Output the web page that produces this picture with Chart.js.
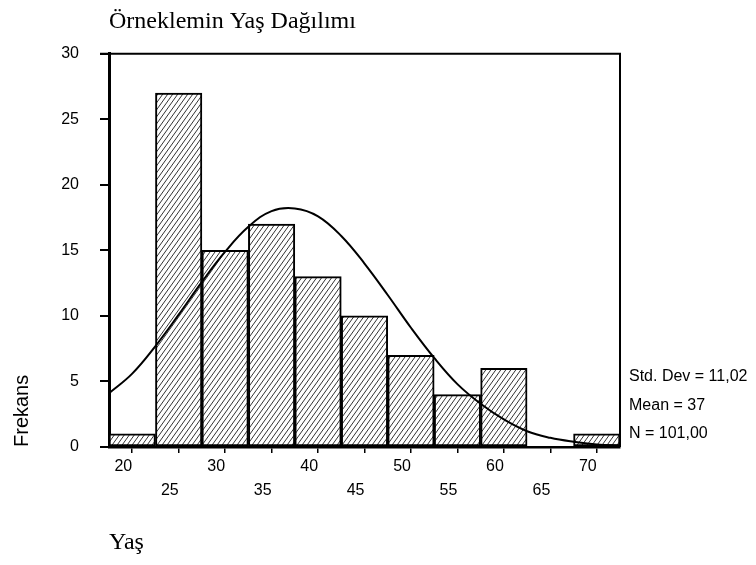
<!DOCTYPE html>
<html lang="tr">
<head>
<meta charset="utf-8">
<title>Örneklemin Yaş Dağılımı</title>
<script src="https://cdn.jsdelivr.net/npm/chart.js@4/dist/chart.umd.min.js"></script>
<style>
  html, body { margin: 0; padding: 0; background: #fff; }
  canvas { display: block; }
</style>
</head>
<body>
<canvas id="grafico" width="756" height="565"></canvas>
<script>
// Histogram data (class centres, width 5)
const ageClasses = [20, 25, 30, 35, 40, 45, 50, 55, 60, 65, 70];
const frequencies = [1, 27, 15, 17, 13, 10, 7, 4, 6, 0, 1];

// Normal curve
const curveAges = [17.5, 20, 22.5, 25, 27.5, 30, 32.5, 35, 37.5, 40, 42.5, 45,
  47.5, 50, 52.5, 55, 57.5, 60, 62.5, 65, 67.5, 70, 72.5];
const curveFreq = [4.1, 5.6, 7.7, 10.1, 12.6, 14.9, 16.8, 18.0, 18.2, 17.6, 16.1, 14.0,
  11.6, 9.1, 6.8, 4.8, 3.3, 2.1, 1.2, 0.7, 0.4, 0.2, 0.1];

const xTicks = [20, 25, 30, 35, 40, 45, 50, 55, 60, 65, 70];
const yTicks = [0, 5, 10, 15, 20, 25, 30];
const stats = ['Std. Dev = 11,02', 'Mean = 37', 'N = 101,00'];

const SANS = '"Liberation Sans", Arial, sans-serif';
const SERIF = '"Liberation Serif", "Times New Roman", serif';

Chart.defaults.font.family = SANS;
Chart.defaults.color = '#000';

// hachura diagonal
function makeHatch() {
  const w = 5, h = 7;
  const c = document.createElement('canvas');
  c.width = w;
  c.height = h;
  const g = c.getContext('2d');
  g.fillStyle = '#fff';
  g.fillRect(0, 0, w, h);
  g.strokeStyle = '#000';
  g.lineWidth = 0.8;
  for (let k = -1; k <= 1; k++) {
    g.beginPath();
    g.moveTo(k * w - w, 2 * h);
    g.lineTo(k * w + 2 * w, -h);
    g.stroke();
  }
  return g.createPattern(c, 'repeat');
}

const frame = {
  id: 'frame',
  afterDatasetsDraw(chart) {
    const { ctx, chartArea: a } = chart;
    ctx.save();
    ctx.strokeStyle = '#000';
    ctx.lineWidth = 2;
    ctx.beginPath();
    ctx.moveTo(a.left - 9, a.top);
    ctx.lineTo(a.right, a.top);
    ctx.lineTo(a.right, a.bottom);
    ctx.stroke();

    ctx.font = '16px ' + SANS;
    ctx.fillStyle = '#000';
    ctx.textBaseline = 'middle';
    ctx.textAlign = 'left';
    stats.forEach((s, i) => {
      ctx.fillText(s, a.right + 9, a.bottom - 13 - (stats.length - 1 - i) * 28.5);
    });
    ctx.restore();
  }
};

new Chart(document.getElementById('grafico'), {
  type: 'bar',
  data: {
    datasets: [{
      type: 'line',
      order: 0,
      data: curveAges.map((x, i) => ({ x: x, y: curveFreq[i] })),
      borderColor: '#000',
      borderWidth: 2,
      pointRadius: 0,
      tension: 0.4,
      fill: false
    }, {
      type: 'bar',
      order: 1,
      data: ageClasses.map((x, i) => ({ x: x, y: frequencies[i] })),
      backgroundColor: makeHatch(),
      borderColor: '#000',
      borderWidth: 2,
      borderSkipped: false,
      barPercentage: 1,
      categoryPercentage: 1
    }]
  },
  options: {
    responsive: false,
    animation: false,
    devicePixelRatio: 1,
    layout: { padding: { left: 0, right: 136, top: 0, bottom: 0 } },
    plugins: {
      legend: { display: false },
      tooltip: { enabled: false },
      title: {
        display: true,
        text: 'Örneklemin Yaş Dağılımı',
        align: 'start',
        fullSize: false,
        color: '#000',
        font: { family: SERIF, size: 24, weight: 'normal' },
        padding: { top: 7, bottom: 18 }
      }
    },
    scales: {
      x: {
        type: 'linear',
        min: 17.5,
        max: 72.5,
        offset: false,
        afterFit: s => { s.height = 118; },
        afterBuildTicks: s => { s.ticks = xTicks.map(v => ({ value: v })); },
        grid: { offset: false, drawOnChartArea: false, tickLength: 6, lineWidth: 1.5, color: '#000' },
        border: { display: true, color: '#000', width: 2.5 },
        ticks: {
          autoSkip: false,
          maxRotation: 0,
          align: 'end',
          padding: 2,
          font: { size: 16, lineHeight: 1.5 },
          callback: (v, i) => (i % 2 === 0 ? String(v) : ['', String(v)])
        },
        title: {
          display: true,
          text: 'Yaş',
          align: 'start',
          color: '#000',
          font: { family: SERIF, size: 24 },
          padding: { top: 0, bottom: 8 }
        }
      },
      y: {
        min: 0,
        max: 30,
        afterFit: s => { s.width = 109; },
        afterBuildTicks: s => { s.ticks = yTicks.map(v => ({ value: v })); },
        grid: { drawOnChartArea: false, tickLength: 9, lineWidth: 2, color: '#000' },
        border: { display: true, color: '#000', width: 3 },
        ticks: { padding: 21, font: { size: 16 } },
        title: {
          display: true,
          text: 'Frekans',
          align: 'start',
          color: '#000',
          font: { size: 20 },
          padding: { top: 10, bottom: 0 }
        }
      }
    }
  },
  plugins: [frame]
});
</script>
</body>
</html>
